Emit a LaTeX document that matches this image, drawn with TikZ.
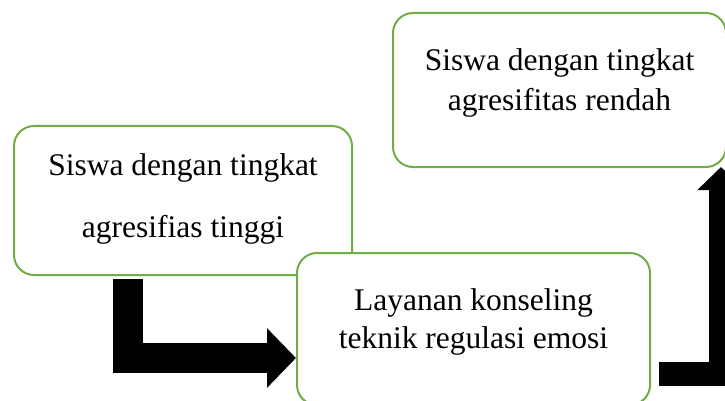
\documentclass[tikz,border=0pt]{standalone}
\usepackage{fontspec}
\setmainfont{Liberation Serif}
\usetikzlibrary{arrows.meta}
\definecolor{boxgreen}{RGB}{112,173,71}
\tikzset{
  stagebox/.style={draw=boxgreen, line width=2pt, rounded corners=20pt, fill=white,
    align=center, inner sep=0pt, font=\fontsize{31.5}{38}\selectfont},
  bentarrow/.style={draw=black, line width=#1, line join=miter}
}
\begin{document}
\begin{tikzpicture}[x=1pt,y=-1pt]
  \useasboundingbox (0,0) rectangle (725,401);
  \clip (0,0) rectangle (725,401);

  \node[stagebox, minimum width=338pt, minimum height=149pt, text depth=10.5pt] (tinggi) at (183,200.5)
    {Siswa dengan tingkat\\[24pt]agresifias tinggi};
  \node[stagebox, minimum width=353pt, minimum height=152pt, text depth=21.5pt] (layanan) at (473.5,329)
    {Layanan konseling\\teknik regulasi emosi};
  \node[stagebox, minimum width=333pt, minimum height=154pt, text depth=21.5pt] (rendah) at (559.5,90)
    {Siswa dengan tingkat\\[2pt]agresifitas rendah};

  % bent arrows between the stages
  \draw[bentarrow=30pt, -{Triangle[length=29pt,width=58pt]}]
    ([xshift=-55.5pt,yshift=-3pt]tinggi.south) |- ([yshift=-29pt]layanan.west);
  \draw[bentarrow=24pt, -{Triangle[length=23pt,width=46pt]}]
    ([xshift=8pt,yshift=-45pt]layanan.east) -| ([xshift=-6pt,yshift=1pt]rendah.south east);
\end{tikzpicture}
\end{document}
